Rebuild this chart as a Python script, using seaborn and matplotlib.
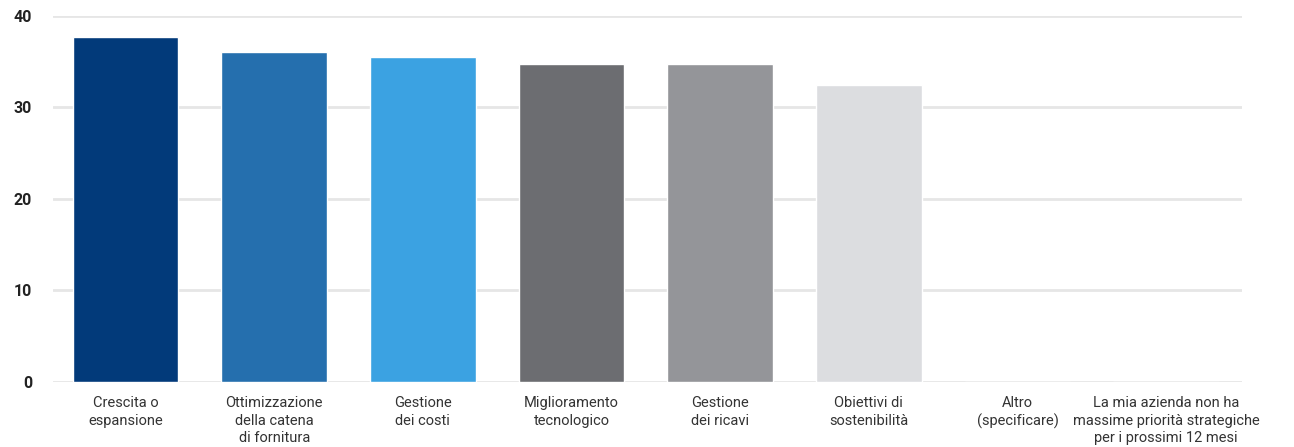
import matplotlib
matplotlib.use("Agg")
import matplotlib.pyplot as plt
import seaborn as sns
import pandas as pd

categories = [
    "Crescita o\nespansione",
    "Ottimizzazione\ndella catena\ndi fornitura",
    "Gestione\ndei costi",
    "Miglioramento\ntecnologico",
    "Gestione\ndei ricavi",
    "Obiettivi di\nsostenibilità",
    "Altro\n(specificare)",
    "La mia azienda non ha\nmassime priorità strategiche\nper i prossimi 12 mesi",
]
values = [37.7, 36.1, 35.5, 34.8, 34.8, 32.4, 0, 0]
colors = ["#023a7a", "#256fae", "#3ba2e2", "#6c6d71", "#949599", "#dcdde0",
          "#dcdde0", "#dcdde0"]
y_ticks = [0, 10, 20, 30, 40]

sns.set_theme(style="white")
plt.rcParams["font.family"] = ["Roboto", "DejaVu Sans"]

df = pd.DataFrame({"categoria": categories, "valore": values})

fig = plt.figure(figsize=(12.94, 4.47), dpi=100)
ax = fig.add_axes([0.041, 0.1454, 0.919, 0.819])

sns.barplot(data=df, x="categoria", y="valore", hue="categoria",
            palette=colors, width=0.71, legend=False, ax=ax, saturation=1)

ax.set_ylim(0, 40)
ax.set_xlim(-0.488, 7.512)
ax.set_yticks(y_ticks)
ax.set_yticklabels([str(t) for t in y_ticks], fontsize=11.5,
                   color="#222222", fontweight="semibold")
ax.tick_params(axis="y", length=0, pad=15)
ax.tick_params(axis="x", length=0, pad=10, labelsize=10.5, labelcolor="#333333")
for lbl in ax.get_xticklabels():
    lbl.set_linespacing(1.33)
    lbl.set_verticalalignment("top")

ax.set_xlabel("")
ax.set_ylabel("")
ax.yaxis.grid(True, color="#e6e6e6", linewidth=2)
ax.set_axisbelow(True)
for side in ["top", "right", "left", "bottom"]:
    ax.spines[side].set_visible(False)

fig.savefig("out.png", dpi=100)
